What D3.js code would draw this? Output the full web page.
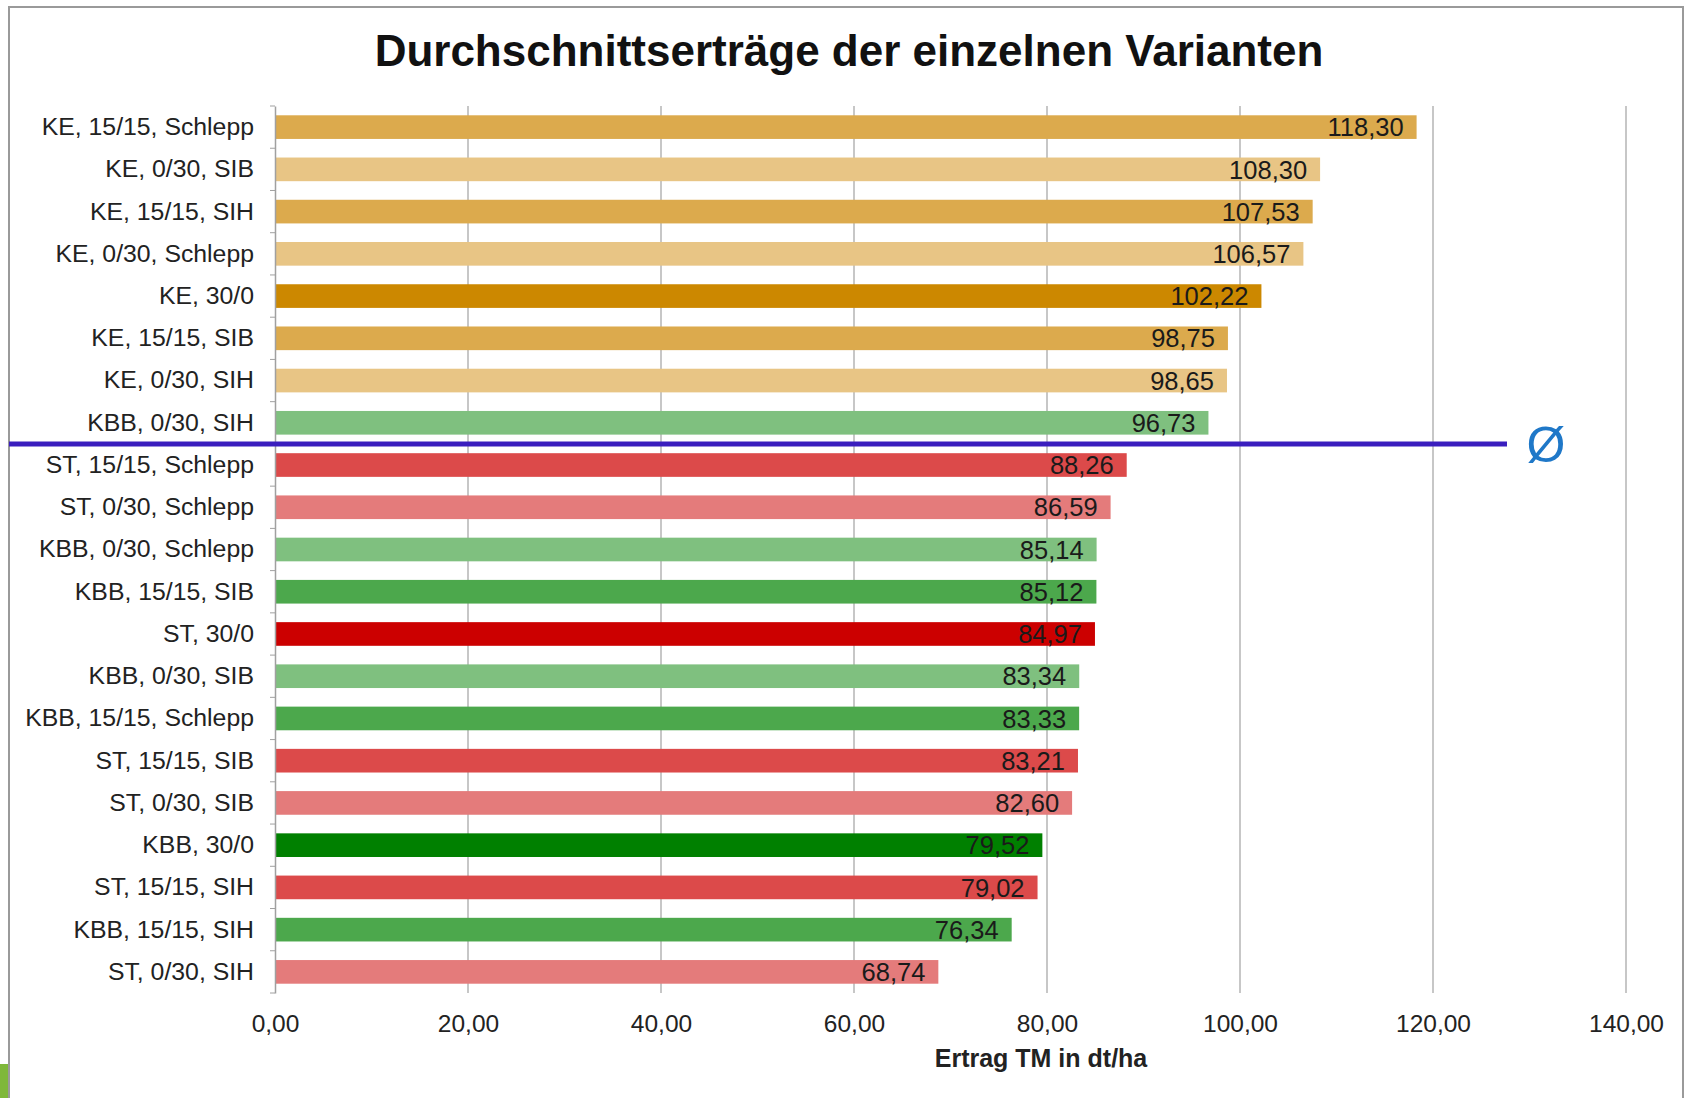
<!DOCTYPE html>
<html>
<head>
<meta charset="utf-8">
<script src="https://cdn.jsdelivr.net/npm/d3@7"></script>
<style>
  body { margin: 0; background: #fff; }
  text { font-family: "Liberation Sans", Arial, sans-serif; }
</style>
</head>
<body>
<script>
// Durchschnittserträge (dt/ha TM), sorted as in the source chart
var categories = [
  "KE, 15/15, Schlepp", "KE, 0/30, SIB", "KE, 15/15, SIH", "KE, 0/30, Schlepp",
  "KE, 30/0", "KE, 15/15, SIB", "KE, 0/30, SIH", "KBB, 0/30, SIH",
  "ST, 15/15, Schlepp", "ST, 0/30, Schlepp", "KBB, 0/30, Schlepp", "KBB, 15/15, SIB",
  "ST, 30/0", "KBB, 0/30, SIB", "KBB, 15/15, Schlepp", "ST, 15/15, SIB",
  "ST, 0/30, SIB", "KBB, 30/0", "ST, 15/15, SIH", "KBB, 15/15, SIH", "ST, 0/30, SIH"
];
var values = [
  118.30, 108.30, 107.53, 106.57,
  102.22, 98.75, 98.65, 96.73,
  88.26, 86.59, 85.14, 85.12,
  84.97, 83.34, 83.33, 83.21,
  82.60, 79.52, 79.02, 76.34, 68.74
];
var xTicks = [0, 20, 40, 60, 80, 100, 120, 140];

// colour per crop + split
var groupColors = {
  "KE|30/0": "#cc8800", "KE|15/15": "#dcaa4d", "KE|0/30": "#e8c585",
  "KBB|30/0": "#008000", "KBB|15/15": "#4ca84c", "KBB|0/30": "#7fc07f",
  "ST|30/0": "#cc0000", "ST|15/15": "#dc4a4a", "ST|0/30": "#e47b7b"
};

var W = 1692, H = 1098;
var svg = d3.select("body").append("svg")
    .attr("width", W)
    .attr("height", H);

var de = d3.formatLocale({decimal: ",", thousands: ".", grouping: [3], currency: ["", " €"]});
var fmt = de.format(".2f");

var x = d3.scaleLinear().domain([0, 140]).range([275, 1626]);
var y = d3.scaleBand().domain(categories).range([106, 993]).paddingInner(0.44).paddingOuter(0.22);

var data = categories.map(function(c, i) { return {name: c, value: values[i]}; });
function colorOf(name) {
  var p = name.split(", ");
  return groupColors[p[0] + "|" + p[1]];
}

// slide frame
svg.append("path")
  .attr("d", "M9,1098 V7 H1683 V1098")
  .attr("fill", "none")
  .attr("stroke", "#9a9a9a")
  .attr("stroke-width", 2);
svg.append("rect").attr("x", 0).attr("y", 1064).attr("width", 8).attr("height", 34).attr("fill", "#7fb83a");

// title
svg.append("text")
  .attr("x", 849).attr("y", 66)
  .attr("text-anchor", "middle")
  .attr("font-size", 44).attr("font-weight", "bold")
  .attr("fill", "#111")
  .text("Durchschnittserträge der einzelnen Varianten");

// vertical gridlines
svg.append("g").selectAll("line")
  .data(xTicks.slice(1))
  .enter().append("line")
    .attr("x1", function(d) { return x(d); })
    .attr("x2", function(d) { return x(d); })
    .attr("y1", 106).attr("y2", 993)
    .attr("stroke", "#b4b4b4")
    .attr("stroke-width", 1.5);

// bars
svg.append("g").selectAll("rect")
  .data(data)
  .enter().append("rect")
    .attr("x", x(0))
    .attr("y", function(d) { return y(d.name); })
    .attr("width", function(d) { return x(d.value) - x(0); })
    .attr("height", y.bandwidth())
    .attr("fill", function(d) { return colorOf(d.name); });

// value labels inside bar end
svg.append("g").selectAll("text")
  .data(data)
  .enter().append("text")
    .attr("x", function(d) { return x(d.value) - 13; })
    .attr("y", function(d) { return y(d.name) + y.bandwidth() / 2; })
    .attr("dy", "0.36em")
    .attr("text-anchor", "end")
    .attr("font-size", 25.5)
    .attr("fill", "#1a1a1a")
    .text(function(d) { return fmt(d.value); });

// category axis
var yAxis = svg.append("g")
  .attr("transform", "translate(" + x(0) + ",0)")
  .call(d3.axisLeft(y).tickSize(0).tickPadding(21));
yAxis.select(".domain").attr("stroke", "#a0a0a0").attr("stroke-width", 1.5);
yAxis.selectAll("text").attr("font-size", 24.8).attr("fill", "#222")
  .style("font-family", "'Liberation Sans', Arial, sans-serif");
// small ticks between categories
svg.append("g").selectAll("line")
  .data(d3.range(categories.length + 1))
  .enter().append("line")
    .attr("x1", x(0) - 5).attr("x2", x(0))
    .attr("y1", function(i) { return 106 + i * y.step(); })
    .attr("y2", function(i) { return 106 + i * y.step(); })
    .attr("stroke", "#a0a0a0");

// value axis labels
var xAxis = svg.append("g")
  .attr("transform", "translate(0,993)")
  .call(d3.axisBottom(x).tickValues(xTicks).tickFormat(fmt).tickSize(0).tickPadding(22));
xAxis.select(".domain").remove();
xAxis.selectAll("text").attr("font-size", 24.5).attr("fill", "#222")
  .style("font-family", "'Liberation Sans', Arial, sans-serif");

svg.append("text")
  .attr("x", 1041).attr("y", 1067)
  .attr("text-anchor", "middle")
  .attr("font-size", 25).attr("font-weight", "bold")
  .attr("fill", "#222")
  .text("Ertrag TM in dt/ha");

// mean line (Ø) between groups above and below the average
var mean = d3.mean(values);
var firstBelow = data.findIndex(function(d) { return d.value < mean; });
var yMean = 106 + firstBelow * y.step();
svg.append("line")
  .attr("x1", 9).attr("x2", 1507)
  .attr("y1", yMean).attr("y2", yMean)
  .attr("stroke", "#3a1ebe")
  .attr("stroke-width", 5);
svg.append("text")
  .attr("x", 1546).attr("y", yMean)
  .attr("dy", "0.36em")
  .attr("text-anchor", "middle")
  .attr("font-size", 50)
  .attr("fill", "#1f78c8")
  .text("Ø");
</script>
</body>
</html>
